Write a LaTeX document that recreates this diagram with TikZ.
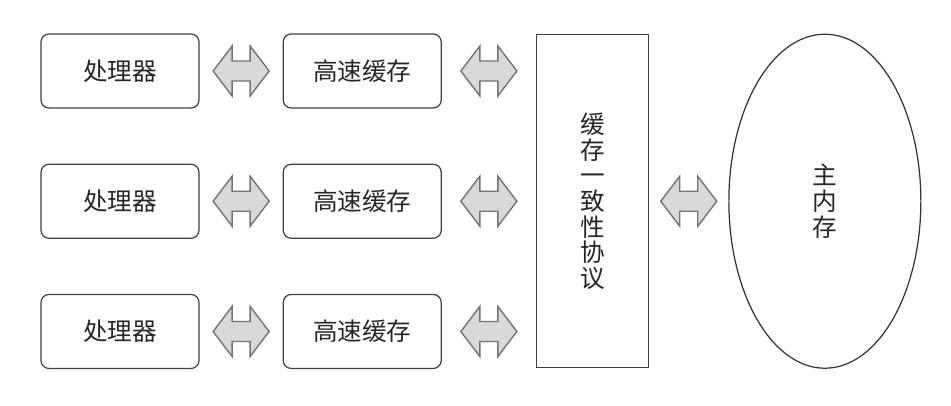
\documentclass[tikz,border=0pt]{standalone}
\usepackage{fontspec}
\setmainfont{Noto Sans CJK SC}
\usepackage{tikz}
\usetikzlibrary{
  positioning,
  calc,
  shapes.geometric
}

% 双向粗箭头：画在两个节点之间（取左节点的高度）
\newcommand{\dualarrow}[2]{%
  \coordinate (mid) at ($(#1.east)!0.5!(#1.east -| #2.west)$);
  \draw[fatarrow] ($(mid)+(-0.56,0)$) -- ++(0.38,0.5) -- ++(0,-0.3)
    -- ++(0.36,0) -- ++(0,0.3) -- ++(0.38,-0.5) -- ++(-0.38,-0.5)
    -- ++(0,0.3) -- ++(-0.36,0) -- ++(0,-0.3) -- cycle;}

\begin{document}
\begin{tikzpicture}[
  font=\fontsize{14}{14.6}\selectfont,
  unit/.style={draw=black!75, line width=0.7pt, rounded corners=0.16cm,
    minimum width=3.16cm, minimum height=1.48cm, inner sep=0pt,
    text=black!85},
  protocol/.style={draw=black!75, line width=0.8pt,
    minimum width=2.24cm, minimum height=6.66cm, inner sep=0pt,
    align=center, text=black!85},
  memory/.style={ellipse, draw=black!80, line width=0.7pt,
    minimum width=3.84cm, minimum height=6.68cm, inner sep=0pt,
    align=center, text=black!85},
  fatarrow/.style={draw=black!55, fill=black!15, line width=0.8pt,
    line join=miter}
]
  \useasboundingbox (0,0) rectangle (19.02,8.1);

  \node[unit] (cpu1) at (2.40,6.68) {处理器};
  \node[unit, below=1.1cm of cpu1] (cpu2) {处理器};
  \node[unit, below=1.1cm of cpu2] (cpu3) {处理器};

  \node[unit, right=1.66cm of cpu1] (cache1) {高速缓存};
  \node[unit, right=1.66cm of cpu2] (cache2) {高速缓存};
  \node[unit, right=1.66cm of cpu3] (cache3) {高速缓存};

  \node[protocol, right=1.88cm of cache2] (mesi)
    {缓\\存\\一\\致\\性\\协\\议};
  \node[memory, right=1.58cm of mesi] (ram) {主\\内\\存};

  \foreach \i in {1,2,3} {
    \dualarrow{cpu\i}{cache\i}
    \dualarrow{cache\i}{mesi}
  }
  \dualarrow{mesi}{ram}
\end{tikzpicture}
\end{document}
